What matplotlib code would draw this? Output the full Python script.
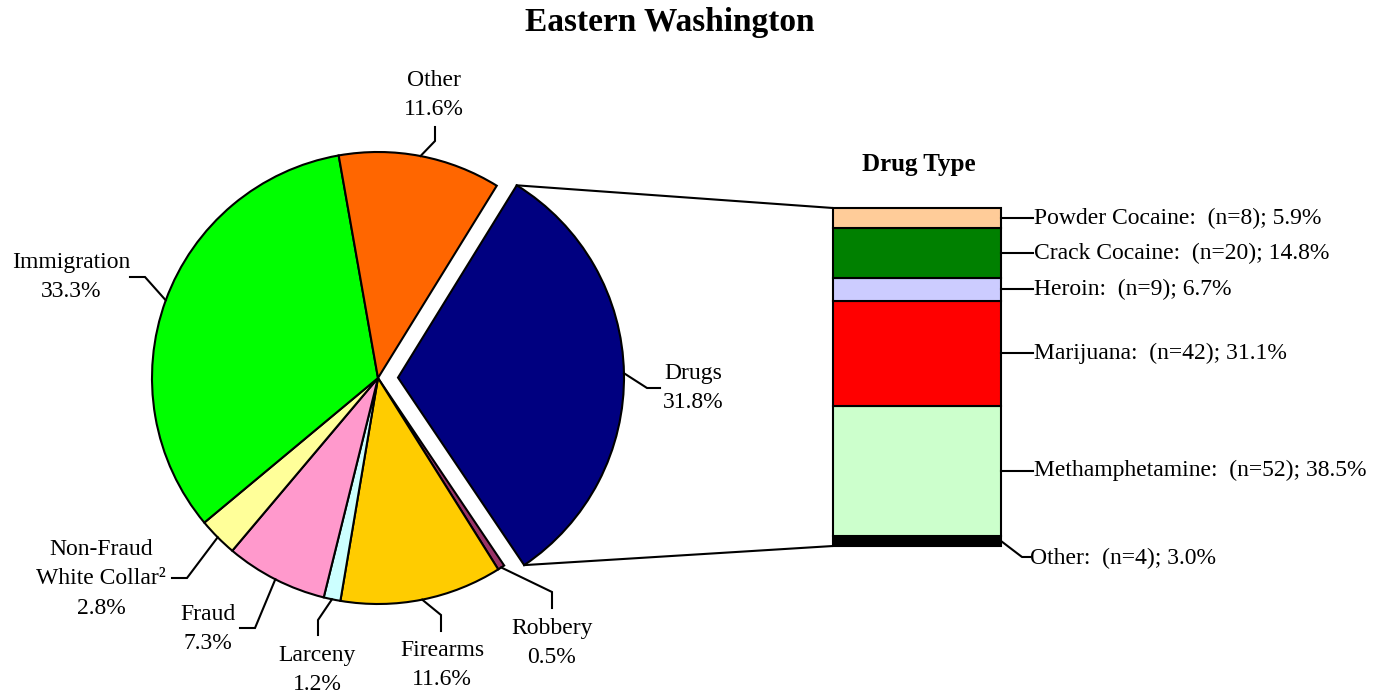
"""
Eastern Washington offense mix: pie of offense types with the Drugs
slice broken out into a stacked bar of drug types.
"""

import numpy as np
import matplotlib.pyplot as plt

plt.rcParams["font.family"] = ["Liberation Serif", "DejaVu Serif"]

# ---------------------------------------------------------------------
# Data
# ---------------------------------------------------------------------

offenses = ["Drugs", "Robbery", "Firearms", "Larceny", "Fraud",
            "Non-Fraud\nWhite Collar\u00b2", "Immigration", "Other"]
offense_pct = [31.8, 0.5, 11.6, 1.2, 7.3, 2.8, 33.3, 11.6]
offense_colors = ["#000080", "#993366", "#FFCC00", "#CCFFFF", "#FF99CC",
                  "#FFFF99", "#00FF00", "#FF6600"]

# drug types, bottom of the bar to top
drugs = ["Other", "Methamphetamine", "Marijuana", "Heroin",
         "Crack Cocaine", "Powder Cocaine"]
drug_n = [4, 52, 42, 9, 20, 8]
drug_colors = ["#000000", "#CCFFCC", "#FF0000", "#CCCCFF", "#008000", "#FFCC99"]

# ---------------------------------------------------------------------
# Canvas in pixel units (y up)
# ---------------------------------------------------------------------

W, H = 1387, 695
fig = plt.figure(figsize=(W / 100, H / 100), dpi=100)
ax = fig.add_axes([0, 0, 1, 1])


def py(y):
    """Convert a top-down pixel row into the axes' y-up coordinate."""
    return H - y


FS = 17
LW = 1.5

# ---------------------------------------------------------------------
# Pie
# ---------------------------------------------------------------------

cx, cy, R = 378, py(378), 226
# pie() explodes by absolute data units, here pixels
explode = [20] + [0] * (len(offense_pct) - 1)
wedges, _ = ax.pie(
    offense_pct,
    colors=offense_colors,
    startangle=58.3,
    counterclock=False,
    explode=explode,
    center=(cx, cy),
    radius=R,
    wedgeprops=dict(edgecolor="black", linewidth=LW),
    frame=True,
)
ax.set_xlim(0, W)
ax.set_ylim(0, H)
ax.set_aspect("equal")
ax.axis("off")

# label layout: (elbow, end, text centre) in top-down pixel rows
label_layout = {
    "Drugs": ((647, 388), (660, 388), (693, 388)),
    "Robbery": ((552, 592), (552, 608), (552, 643)),
    "Firearms": ((441, 615), (441, 631), (442, 665)),
    "Larceny": ((318, 620), (318, 635), (317, 670)),
    "Fraud": ((255, 628), (240, 628), (208, 629)),
    "Non-Fraud\nWhite Collar\u00b2": ((187, 578), (172, 578), (101, 579)),
    "Immigration": ((145, 277), (130, 277), (71, 277)),
    "Other": ((435, 141), (435, 127), (434, 95)),
}

for w, name, pct in zip(wedges, offenses, offense_pct):
    mid = np.deg2rad((w.theta1 + w.theta2) / 2)
    ex = w.center[0] + w.r * np.cos(mid)
    ey = w.center[1] + w.r * np.sin(mid)
    (bx, by), (tx, ty), (lx, ly) = label_layout[name]
    ax.plot([ex, bx, tx], [ey, py(by), py(ty)], color="black", lw=LW,
            solid_joinstyle="miter")
    ax.text(lx, py(ly), f"{name}\n{pct:.1f}%", ha="center", va="center",
            fontsize=FS, linespacing=1.55)

# ---------------------------------------------------------------------
# Stacked bar of drug types
# ---------------------------------------------------------------------

bar_x, bar_w = 917, 168
bar_bottom, bar_h = py(546), 338
scale = bar_h / sum(drug_n)
bottoms = bar_bottom + np.concatenate([[0], np.cumsum(drug_n)[:-1]]) * scale
heights = np.array(drug_n) * scale
ax.bar(bar_x, heights, width=bar_w, bottom=bottoms, color=drug_colors,
       edgecolor="black", linewidth=LW)

total = sum(drug_n)
right = bar_x + bar_w / 2
for i, (name, n) in enumerate(zip(drugs, drug_n)):
    label = f"{name}:  (n={n}); {100 * n / total:.1f}%"
    y0 = bottoms[i] + heights[i] / 2
    if i == 0:
        # bottom slice is thin, leader drops diagonally
        ax.plot([right, right + 21, right + 29], [y0, y0 - 16, y0 - 16],
                color="black", lw=LW)
        ax.text(right + 29, y0 - 17, label, ha="left", va="center",
                fontsize=FS)
    else:
        ax.plot([right, right + 32], [y0, y0], color="black", lw=LW)
        ax.text(right + 33, y0, label, ha="left", va="center", fontsize=FS)

ax.text(bar_x + 2, py(165), "Drug Type", ha="center", va="center",
        fontsize=18, fontweight="bold")

# connector lines from the exploded Drugs wedge to the bar
dw = wedges[0]
left = bar_x - bar_w / 2
for ang, yb in [(dw.theta2, bar_bottom + bar_h), (dw.theta1, bar_bottom)]:
    a = np.deg2rad(ang)
    ax.plot([dw.center[0] + dw.r * np.cos(a), left],
            [dw.center[1] + dw.r * np.sin(a), yb], color="black", lw=LW)

# ---------------------------------------------------------------------
# Title
# ---------------------------------------------------------------------

ax.text(670, py(22), "Eastern Washington", ha="center", va="center",
        fontsize=24, fontweight="bold")

fig.savefig("out.png", dpi=100)
